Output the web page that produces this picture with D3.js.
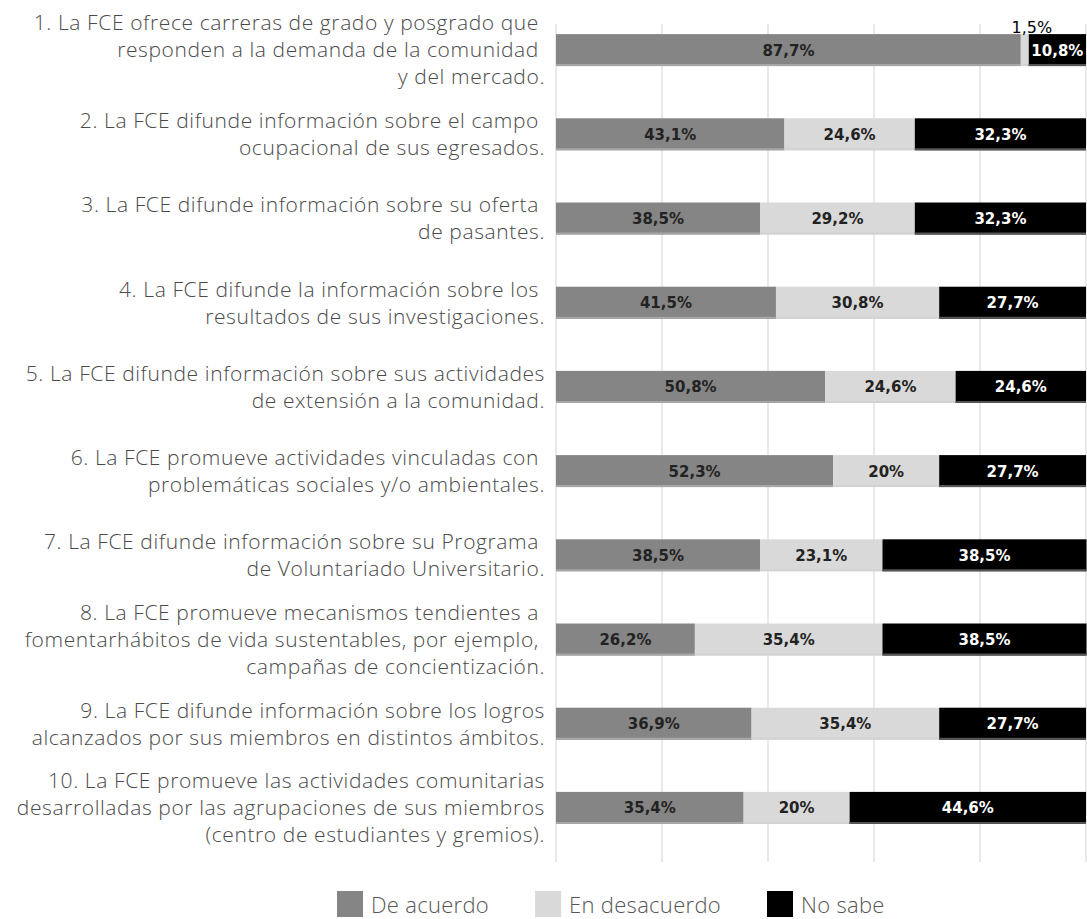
<!DOCTYPE html>
<html>
<head>
<meta charset="utf-8">
<script src="https://cdn.jsdelivr.net/npm/d3@7"></script>
<style>
body { margin: 0; background: #fff; }
svg text { font-family: "Open Sans", sans-serif; }
</style>
</head>
<body>
<svg id="svg"></svg>
<script>
// preguntas, una entrada por barra, cortadas en lineas como en el original
var preguntas = [
	["1. La FCE ofrece carreras de grado y posgrado que\u00a0", "responden a la demanda de la comunidad\u00a0", "y del mercado."],
	["2. La FCE difunde información sobre el campo\u00a0", "ocupacional de sus egresados."],
	["3. La FCE difunde información sobre su oferta\u00a0", "de pasantes."],
	["4. La FCE difunde la información sobre los\u00a0", "resultados de sus investigaciones."],
	["5. La FCE difunde información sobre sus actividades", "de extensión a la comunidad."],
	["6. La FCE promueve actividades vinculadas con\u00a0", "problemáticas sociales y/o ambientales."],
	["7. La FCE difunde información sobre su Programa\u00a0", "de Voluntariado Universitario."],
	["8. La FCE promueve mecanismos tendientes a\u00a0", "fomentarhábitos de vida sustentables, por ejemplo,\u00a0", "campañas de concientización."],
	["9. La FCE difunde información sobre los logros", "alcanzados por sus miembros en distintos ámbitos."],
	["10. La FCE promueve las actividades comunitarias", "desarrolladas por las agrupaciones de sus miembros", "(centro de estudiantes y gremios)."]
];

// porcentajes por serie
var deAcuerdo     = [87.7, 43.1, 38.5, 41.5, 50.8, 52.3, 38.5, 26.2, 36.9, 35.4];
var enDesacuerdo  = [1.5, 24.6, 29.2, 30.8, 24.6, 20, 23.1, 35.4, 35.4, 20];
var noSabe        = [10.8, 32.3, 32.3, 27.7, 24.6, 27.7, 38.5, 38.5, 27.7, 44.6];

var series = ["De acuerdo", "En desacuerdo", "No sabe"];
var xTicks = [0, 20, 40, 60, 80, 100];

var colores = {"De acuerdo": "#858585", "En desacuerdo": "#d9d9d9", "No sabe": "#000000"};
var bordes  = {"De acuerdo": "#a6a6a6", "En desacuerdo": "#d2d2d2", "No sabe": "#555555"};
var textoBarra = {"De acuerdo": "#222", "En desacuerdo": "#222", "No sabe": "#fff"};

var W = 1087, H = 919;

var svg = d3.select("#svg").attr("width", W).attr("height", H);

var filas = preguntas.map(function(p, i){
	return {id: i, "De acuerdo": deAcuerdo[i], "En desacuerdo": enDesacuerdo[i], "No sabe": noSabe[i]};
});

var x = d3.scaleLinear().domain([0, 100]).range([556, 1086]);
var y = d3.scaleBand()
	.domain(filas.map(function(d){ return d.id; }))
	.range([8, 850])
	.paddingInner(0.62)
	.paddingOuter(0.31);

// lineas de grilla verticales
svg.append("g").selectAll("line")
	.data(xTicks)
	.enter()
	.append("line")
	.attr("x1", function(d){ return x(d); })
	.attr("x2", function(d){ return x(d); })
	.attr("y1", 24)
	.attr("y2", 862)
	.attr("stroke", "#e2e2e2")
	.attr("stroke-width", 1.5);

var stack = d3.stack().keys(series);
var capas = stack(filas);

var fmt = function(v){ return String(v).replace(".", ",") + "%"; };
var angosto = function(d){ return (x(d[1]) - x(d[0])) < 20; };

var g = svg.append("g");
capas.forEach(function(capa){
	var k = capa.key;
	var grupo = g.append("g");

	grupo.selectAll("rect")
		.data(capa)
		.enter()
		.append("rect")
		.attr("x", function(d){ return x(d[0]); })
		.attr("y", function(d){ return y(d.data.id); })
		.attr("width", function(d){ return x(d[1]) - x(d[0]); })
		.attr("height", y.bandwidth())
		.attr("fill", colores[k]);

	// borde inferior tenue
	grupo.selectAll("line")
		.data(capa)
		.enter()
		.append("line")
		.attr("x1", function(d){ return x(d[0]); })
		.attr("x2", function(d){ return x(d[1]); })
		.attr("y1", function(d){ return y(d.data.id) + y.bandwidth() - 1; })
		.attr("y2", function(d){ return y(d.data.id) + y.bandwidth() - 1; })
		.attr("stroke", bordes[k])
		.attr("stroke-width", 2);

	// valores: dentro de la barra, o arriba si el tramo es muy angosto
	grupo.selectAll("text")
		.data(capa)
		.enter()
		.append("text")
		.text(function(d){ return fmt(d.data[k]); })
		.attr("x", function(d){ return (x(d[0]) + x(d[1])) / 2 + (angosto(d) ? 7 : 0); })
		.attr("y", function(d){ return angosto(d) ? y(d.data.id) - 1 : y(d.data.id) + y.bandwidth() / 2; })
		.attr("dy", function(d){ return angosto(d) ? 0 : "0.36em"; })
		.attr("text-anchor", "middle")
		.style("font-family", "'DejaVu Sans', sans-serif")
		.style("font-weight", function(d){ return angosto(d) ? "normal" : "bold"; })
		.style("font-size", function(d){ return angosto(d) ? "16px" : "15px"; })
		.attr("fill", function(d){ return angosto(d) ? "#000" : textoBarra[k]; });
});

// etiquetas de las preguntas
var lineH = 27;
var etiquetas = svg.append("g");
preguntas.forEach(function(lineas, i){
	var cy = y(i) + y.bandwidth() / 2;
	var t = etiquetas.append("text")
		.attr("text-anchor", "end")
		.style("font-size", "21px")
		.style("font-weight", 300)
		.style("letter-spacing", "0.6px")
		.attr("fill", "#4a4a4a");
	lineas.forEach(function(l, j){
		t.append("tspan")
			.attr("x", 545)
			.attr("y", cy + (j - (lineas.length - 1) / 2) * lineH)
			.attr("dy", "0.35em")
			.text(l);
	});
});

// leyenda
var ley = svg.append("g");
var lx = 337;
series.forEach(function(s){
	ley.append("rect")
		.attr("x", lx)
		.attr("y", 891)
		.attr("width", 26)
		.attr("height", 26)
		.attr("fill", colores[s]);
	var t = ley.append("text")
		.attr("x", lx + 34)
		.attr("y", 913)
		.text(s)
		.style("font-size", "22px")
		.style("font-weight", 300)
		.style("letter-spacing", "0.3px")
		.attr("fill", "#555");
	lx = lx + 34 + t.node().getComputedTextLength() + 46;
});
</script>
</body>
</html>
